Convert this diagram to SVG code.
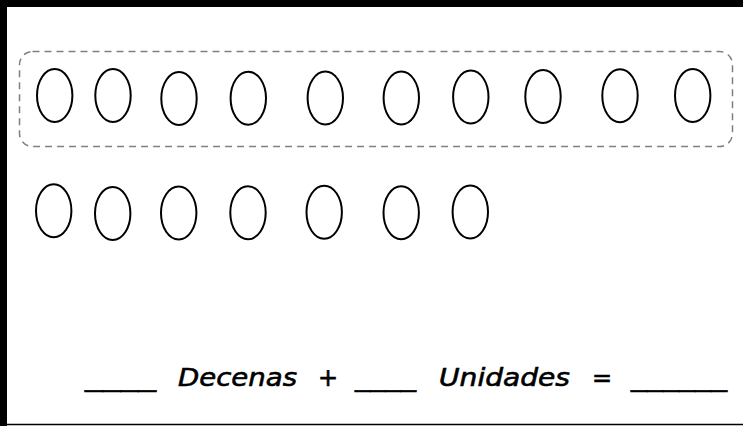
<svg xmlns="http://www.w3.org/2000/svg" width="743" height="426" viewBox="0 0 743 426">
<style>
.o{fill:none;stroke:#000;stroke-width:2}
.t{font-family:"DejaVu Sans",sans-serif;font-style:oblique;font-size:24px;fill:#000;stroke:#000;stroke-width:0.6}
</style>
<rect width="743" height="426" fill="#fff"/>
<g id="frame">
<rect x="0" y="0" width="7" height="426" fill="#000"/>
<rect x="0" y="0" width="743" height="7" fill="#000"/>
<line x1="0" y1="424.5" x2="743" y2="424.5" stroke="#000" stroke-width="1.5"/>
</g>
<g id="group-ten">
<rect x="19.5" y="51.5" width="713" height="95" rx="13" fill="none" stroke="#808080" stroke-width="1.5" stroke-dasharray="7 5"/>
</g>
<g id="row1">
<ellipse class="o" cx="54.7" cy="95.5" rx="17.7" ry="26.5"/>
<ellipse class="o" cx="113" cy="95.5" rx="17.7" ry="26.5"/>
<ellipse class="o" cx="179" cy="98.5" rx="17.7" ry="26.5"/>
<ellipse class="o" cx="248.3" cy="98.2" rx="17.7" ry="26.5"/>
<ellipse class="o" cx="325.3" cy="98" rx="17.7" ry="26.5"/>
<ellipse class="o" cx="401.3" cy="98" rx="17.7" ry="26.5"/>
<ellipse class="o" cx="470.8" cy="97" rx="17.7" ry="26.5"/>
<ellipse class="o" cx="543" cy="96.5" rx="17.7" ry="26.5"/>
<ellipse class="o" cx="620" cy="95.8" rx="17.7" ry="26.5"/>
<ellipse class="o" cx="692.7" cy="95.5" rx="17.7" ry="26.5"/>
</g>
<g id="row2">
<ellipse class="o" cx="53.7" cy="210.8" rx="17.7" ry="26.5"/>
<ellipse class="o" cx="112.7" cy="213.5" rx="17.7" ry="26.5"/>
<ellipse class="o" cx="178.7" cy="213" rx="17.7" ry="26.5"/>
<ellipse class="o" cx="248" cy="212.7" rx="17.7" ry="26.5"/>
<ellipse class="o" cx="324.2" cy="212.3" rx="17.7" ry="26.5"/>
<ellipse class="o" cx="401.2" cy="212.7" rx="17.7" ry="26.5"/>
<ellipse class="o" cx="470.3" cy="212" rx="17.7" ry="26.5"/>
</g>
<g id="equation">
<text class="t" x="85" y="385.7" textLength="71" lengthAdjust="spacingAndGlyphs">____</text>
<text class="t" x="178" y="385.7" textLength="119" lengthAdjust="spacingAndGlyphs">Decenas</text>
<text class="t" x="328" y="385.7" text-anchor="middle">+</text>
<text class="t" x="355" y="385.7" textLength="61" lengthAdjust="spacingAndGlyphs">____</text>
<text class="t" x="439" y="385.7" textLength="131" lengthAdjust="spacingAndGlyphs">Unidades</text>
<text class="t" x="602" y="385.7" text-anchor="middle">=</text>
<text class="t" x="631" y="385.7" textLength="96" lengthAdjust="spacingAndGlyphs">______</text>
</g>
</svg>
